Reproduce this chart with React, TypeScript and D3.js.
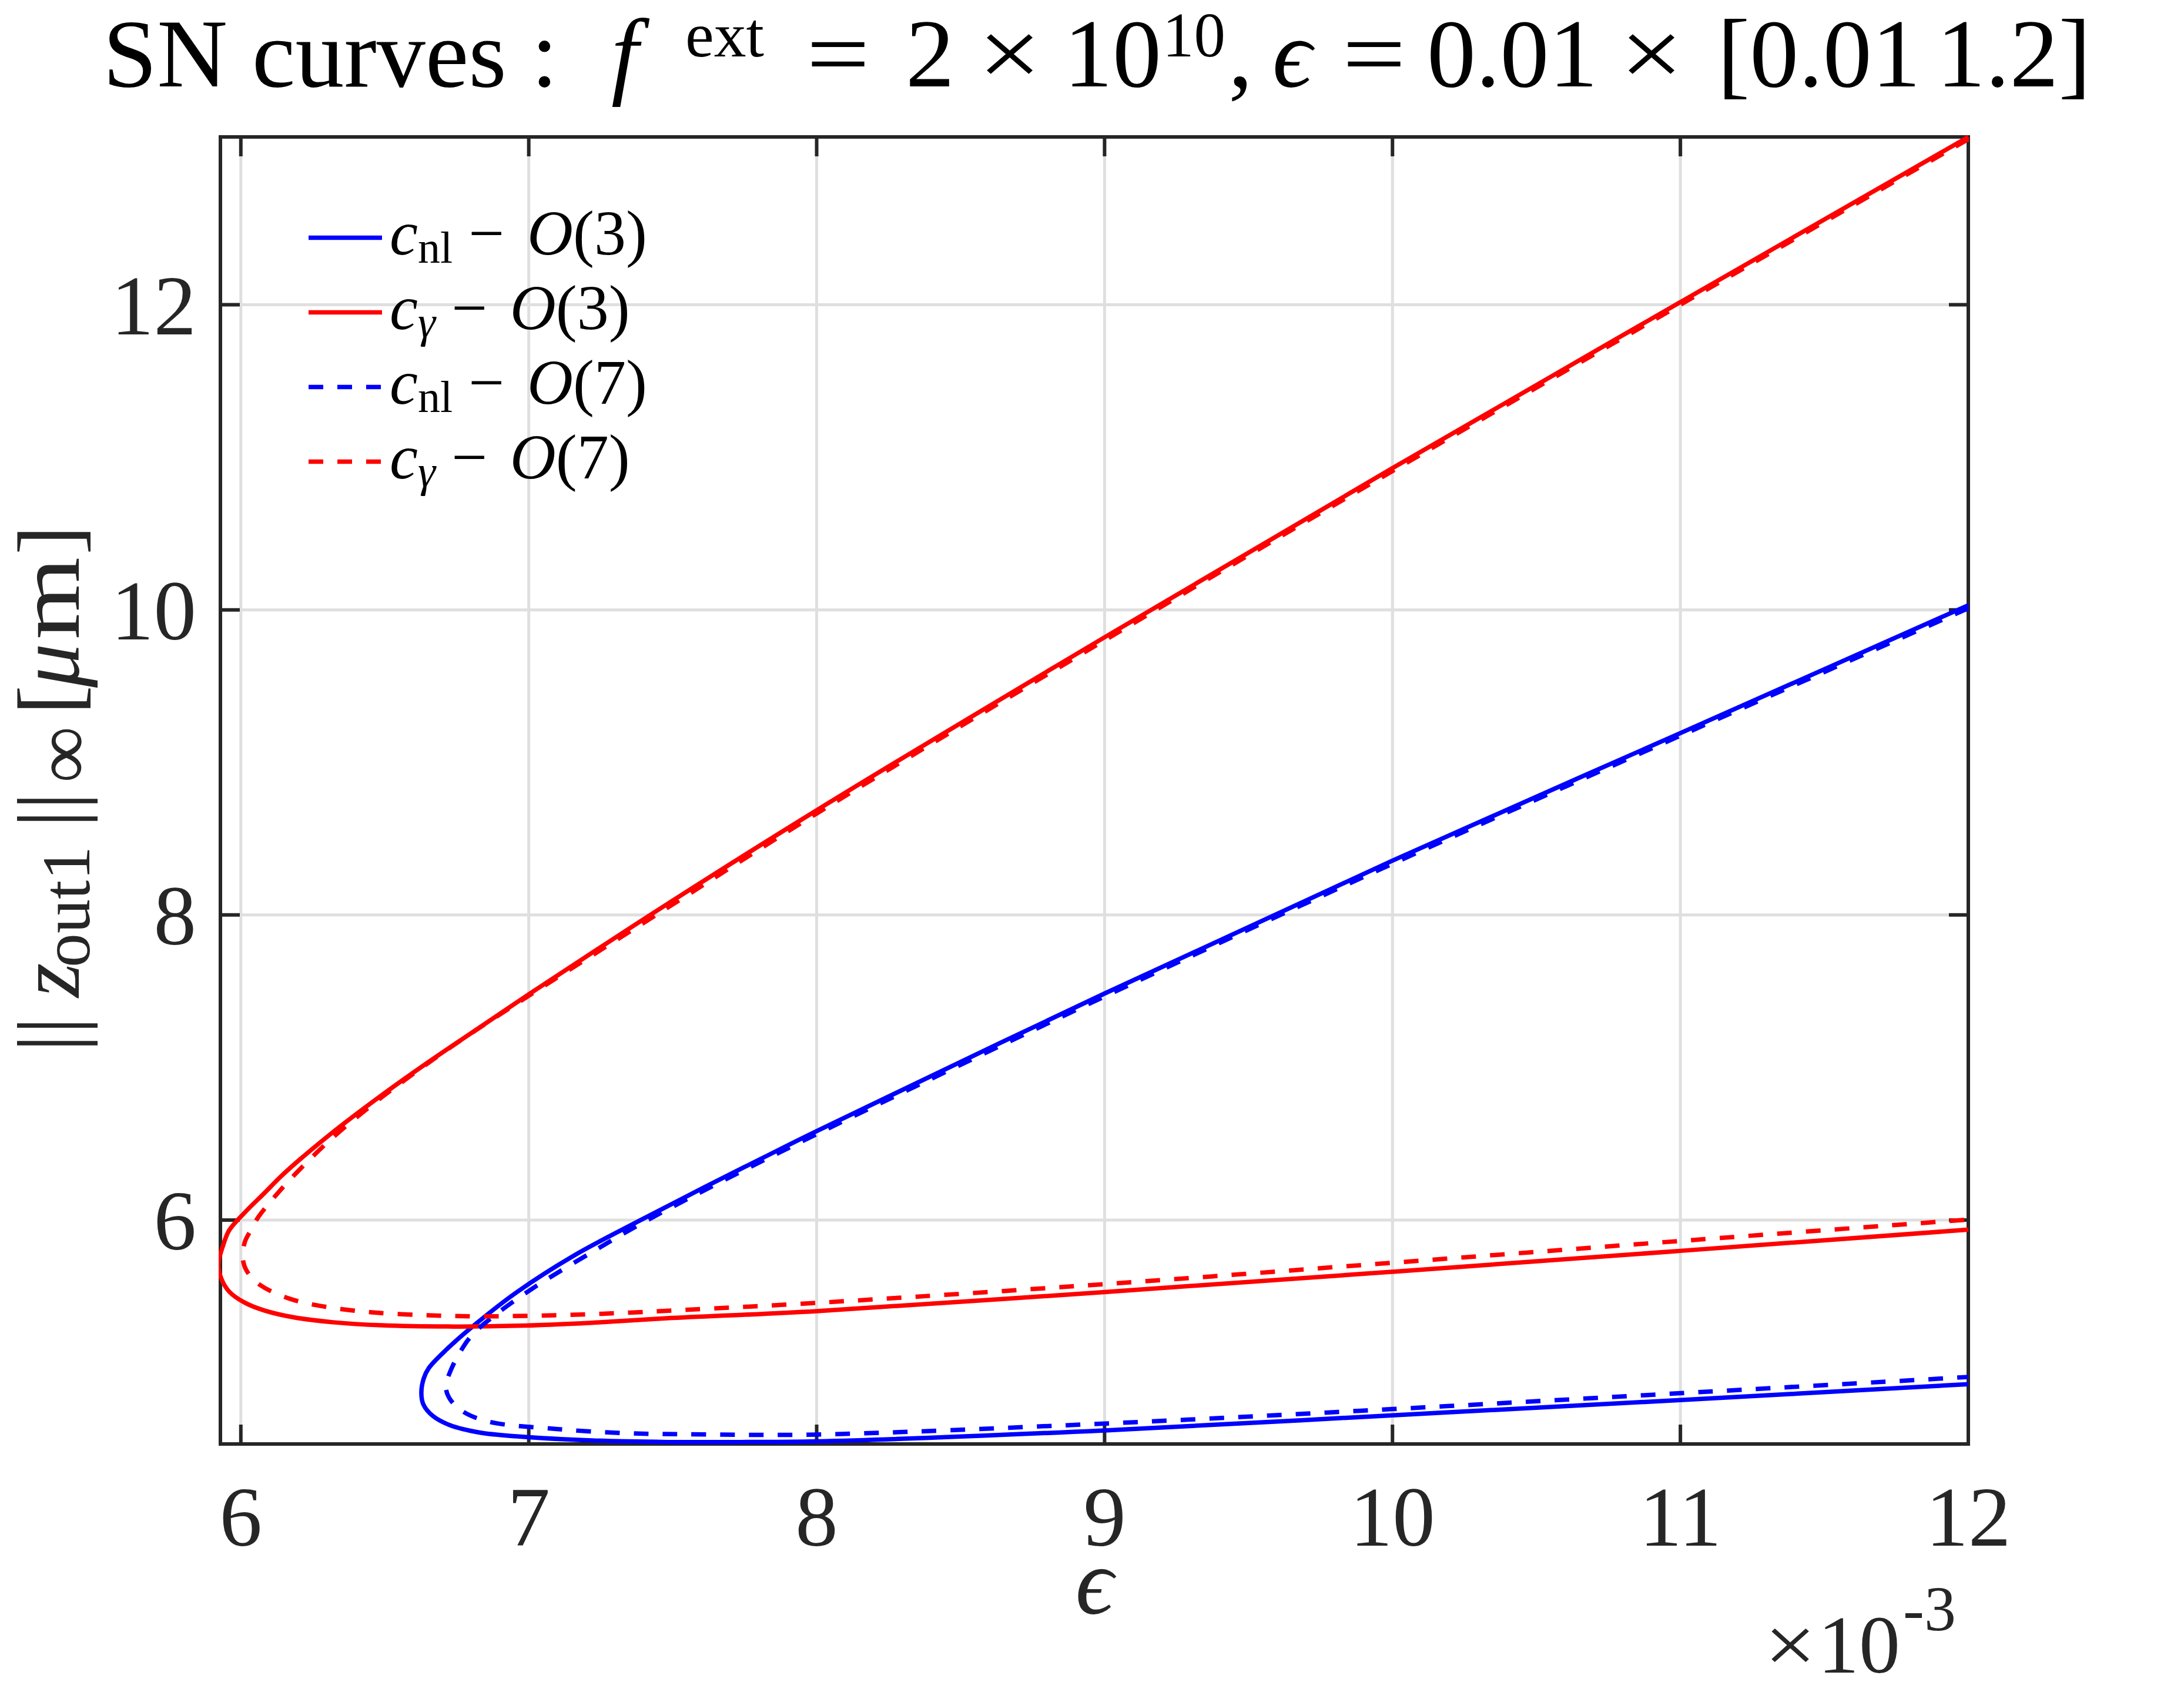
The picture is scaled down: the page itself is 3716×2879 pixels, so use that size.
import * as d3 from "d3";
import React from "react";

// epsilon values are in units of 1e-3, z in micrometres
const cNlO3: [number, number][] = [
  [12, 10.03], [11, 9.192], [10, 8.356], [9, 7.485], [8, 6.583], [7.806, 6.401],
  [7.61, 6.215], [7.389, 6.0], [7.155, 5.765], [6.959, 5.528], [6.816, 5.319],
  [6.712, 5.147], [6.653, 5.03], [6.635, 4.96], [6.627, 4.865], [6.634, 4.791],
  [6.666, 4.717], [6.725, 4.656], [6.829, 4.607], [6.959, 4.582], [7.22, 4.555],
  [7.48, 4.545], [7.74, 4.545], [8, 4.549], [9, 4.621], [10, 4.72], [11, 4.82],
  [12, 4.924],
];

const cGammaO3: [number, number][] = [
  [12, 13.1], [11, 12.017], [10, 10.929], [9, 9.82], [8, 8.686], [7.48, 8.07],
  [7.22, 7.752], [7.0, 7.48], [6.829, 7.262], [6.647, 7.03], [6.465, 6.785],
  [6.309, 6.56], [6.15, 6.305], [6.082, 6.177], [6.014, 6.05], [5.96, 5.934],
  [5.94, 5.843], [5.922, 5.708], [5.933, 5.612], [5.96, 5.53], [6.014, 5.458],
  [6.082, 5.407], [6.184, 5.362], [6.32, 5.33], [6.49, 5.31], [6.738, 5.302],
  [6.959, 5.307], [7.22, 5.327], [7.48, 5.356], [8, 5.403], [9, 5.528],
  [10, 5.661], [11, 5.798], [12, 5.937],
];

const cNlO7: [number, number][] = [
  [12, 10.01], [11, 9.175], [10, 8.335], [9, 7.465], [8, 6.563], [7.61, 6.195],
  [7.389, 5.975], [7.22, 5.79], [7.024, 5.565], [6.894, 5.393], [6.803, 5.246],
  [6.757, 5.12], [6.728, 5.01], [6.712, 4.914], [6.722, 4.84], [6.764, 4.754],
  [6.855, 4.681], [7.09, 4.631], [7.35, 4.602], [7.61, 4.595], [8, 4.594],
  [9, 4.666], [10, 4.761], [11, 4.865], [12, 4.971],
];

const cGammaO7: [number, number][] = [
  [12, 13.085], [11, 12.0], [10, 10.91], [9, 9.8], [8, 8.665], [7.48, 8.045],
  [7.0, 7.47], [6.751, 7.162], [6.595, 6.953], [6.465, 6.769], [6.309, 6.523],
  [6.178, 6.28], [6.123, 6.165], [6.062, 6.023], [6.035, 5.934], [6.014, 5.857],
  [6.007, 5.747], [6.021, 5.665], [6.068, 5.573], [6.17, 5.484], [6.286, 5.434],
  [6.456, 5.395], [6.65, 5.376], [6.829, 5.369], [7.09, 5.376], [7.35, 5.393],
  [7.61, 5.418], [8, 5.457], [9, 5.58], [10, 5.72], [11, 5.863], [12, 6.003],
];

const xTicks = [6, 7, 8, 9, 10, 11, 12];
const yTicks = [6, 8, 10, 12];
const xDomain: [number, number] = [5.929, 12];
const yDomain: [number, number] = [4.532, 13.1];

const series = [
  { name: "nl", order: "3", data: cNlO3, color: "#0000ff", dashed: false },
  { name: "gamma", order: "3", data: cGammaO3, color: "#ff0000", dashed: false },
  { name: "nl", order: "7", data: cNlO7, color: "#0000ff", dashed: true },
  { name: "gamma", order: "7", data: cGammaO7, color: "#ff0000", dashed: true },
];

// title pieces: text, start x, kind (n = normal, i = italic, s = superscript, o = operator)
const titleParts: [string, number, string][] = [
  ["SN curves :", 175, "n"],
  ["f", 1040, "i"],
  ["ext", 1166, "s"],
  ["=", 1372, "o"],
  ["2", 1541, "n"],
  ["×", 1664, "o"],
  ["10", 1810, "n"],
  ["10", 1978, "s"],
  [",", 2090, "n"],
  ["ϵ", 2165, "i"],
  ["=", 2284, "o"],
  ["0.01", 2428, "n"],
  ["×", 2756, "o"],
  ["[0.01", 2922, "n"],
  ["1.2]", 3295, "n"],
];

// y label pieces: text, screen y where the piece starts, italic, subscript, size
const yLabelParts: [string, number, boolean, boolean, number][] = [
  ["||", 1790, false, false, 150],
  ["z", 1697, true, false, 150],
  ["out1", 1646, false, true, 116],
  ["||", 1408, false, false, 150],
  ["∞", 1332, false, true, 135],
  ["[", 1216, false, false, 150],
  ["μ", 1170, true, false, 150],
  ["m", 1088, false, false, 150],
  ["]", 944, false, false, 150],
];

const W = 3716;
const H = 2879;
const box = { left: 375, right: 3349, top: 233, bottom: 2457 };
const axisColor = "#262626";
const serif = "'Liberation Serif', 'Times New Roman', serif";
const DASH = "25 24";

export default function App() {
  const x = d3.scaleLinear().domain(xDomain).range([box.left, box.right]);
  const y = d3.scaleLinear().domain(yDomain).range([box.bottom, box.top]);
  const line = d3
    .line<[number, number]>()
    .x((d) => x(d[0]))
    .y((d) => y(d[1]))
    .curve(d3.curveCatmullRom.alpha(0.5));

  const tickLen = 33;
  const cx = (box.left + box.right) / 2;

  return (
    <svg
      width={W}
      height={H}
      viewBox={`0 0 ${W} ${H}`}
      style={{ position: "absolute", left: 0, top: 0, background: "#fff" }}
      fontFamily={serif}
    >
      <defs>
        <clipPath id="plotClip">
          <rect x={box.left - 3} y={box.top - 3} width={box.right - box.left + 6} height={box.bottom - box.top + 6} />
        </clipPath>
      </defs>
      <rect x={0} y={0} width={W} height={H} fill="#fff" />

      {/* grid */}
      <g stroke="#dfdfdf" strokeWidth={5}>
        {xTicks.map((t) => (
          <line key={"gx" + t} x1={x(t)} x2={x(t)} y1={box.top} y2={box.bottom} />
        ))}
        {yTicks.map((t) => (
          <line key={"gy" + t} x1={box.left} x2={box.right} y1={y(t)} y2={y(t)} />
        ))}
      </g>

      {/* box and ticks */}
      <g stroke={axisColor} strokeWidth={6} fill="none">
        <rect x={box.left} y={box.top} width={box.right - box.left} height={box.bottom - box.top} />
        {xTicks.map((t) => (
          <g key={"tx" + t}>
            <line x1={x(t)} x2={x(t)} y1={box.bottom} y2={box.bottom - tickLen} />
            <line x1={x(t)} x2={x(t)} y1={box.top} y2={box.top + tickLen} />
          </g>
        ))}
        {yTicks.map((t) => (
          <g key={"ty" + t}>
            <line x1={box.left} x2={box.left + tickLen} y1={y(t)} y2={y(t)} />
            <line x1={box.right} x2={box.right - tickLen} y1={y(t)} y2={y(t)} />
          </g>
        ))}
      </g>

      {/* curves */}
      <g clipPath="url(#plotClip)" fill="none">
        {series.map((s, i) => (
          <path
            key={i}
            d={line(s.data) ?? ""}
            stroke={s.color}
            strokeWidth={7.5}
            strokeDasharray={s.dashed ? DASH : undefined}
            strokeLinejoin="round"
          />
        ))}
      </g>

      {/* tick labels */}
      <g fill={axisColor} fontSize={145}>
        {xTicks.map((t) => (
          <text key={"lx" + t} x={x(t)} y={2630} textAnchor="middle">
            {t}
          </text>
        ))}
        {yTicks.map((t) => (
          <text key={"ly" + t} x={334} y={y(t) + 50} textAnchor="end">
            {t}
          </text>
        ))}
      </g>

      {/* exponent */}
      <g fill={axisColor}>
        <text x={3002} y={2846} fontSize={140} textLength={88} lengthAdjust="spacingAndGlyphs">×</text>
        <text x={3093} y={2846} fontSize={140}>10</text>
        <text x={3238} y={2774} fontSize={108}>-3</text>
      </g>

      {/* x label */}
      <text x={cx} y={2745} textAnchor="middle" fontSize={160} fontStyle="italic" fill={axisColor}>
        ϵ
      </text>

      {/* y label, rotated: local x = -screen y, local y = screen x */}
      <g transform="rotate(-90)" fill={axisColor}>
        {yLabelParts.map(([t, sy, it, sub, fs], i) => (
          <text
            key={"yl" + i}
            x={-sy}
            y={sub ? 152 : 134}
            fontSize={fs}
            fontStyle={it ? "italic" : "normal"}
            textLength={t === "m" ? 140 : undefined}
            lengthAdjust={t === "m" ? "spacingAndGlyphs" : undefined}
          >
            {t}
          </text>
        ))}
      </g>

      {/* title */}
      <g fill="#000">
        {titleParts.map(([t, tx, kind], i) => (
          <text
            key={"tt" + i}
            x={tx}
            y={kind === "s" ? 96 : 147}
            fontSize={kind === "s" ? 107 : 166}
            fontStyle={kind === "i" ? "italic" : "normal"}
            textLength={kind === "o" ? 108 : kind === "s" && t === "ext" ? 134 : undefined}
            lengthAdjust={kind === "o" || t === "ext" ? "spacingAndGlyphs" : undefined}
          >
            {t}
          </text>
        ))}
      </g>

      {/* legend */}
      <g>
        {series.map((s, i) => {
          const ly = 404.5 + i * 127;
          return (
            <g key={"lg" + i}>
              <line
                x1={525}
                x2={650}
                y1={ly}
                y2={ly}
                stroke={s.color}
                strokeWidth={7.5}
                strokeDasharray={s.dashed ? DASH : undefined}
              />
              <text x={663} y={ly + 28} fontSize={108} fill="#000" style={{ whiteSpace: "pre" }}>
                <tspan fontStyle="italic">c</tspan>
                {s.name === "nl" ? (
                  <tspan fontSize={76} dy={14}>nl</tspan>
                ) : (
                  <tspan fontSize={76} dy={14} fontStyle="italic">γ</tspan>
                )}
                <tspan dy={-14}> − </tspan>
                <tspan fontStyle="italic" dx={12}>O</tspan>
                <tspan>({s.order})</tspan>
              </text>
            </g>
          );
        })}
      </g>
    </svg>
  );
}
